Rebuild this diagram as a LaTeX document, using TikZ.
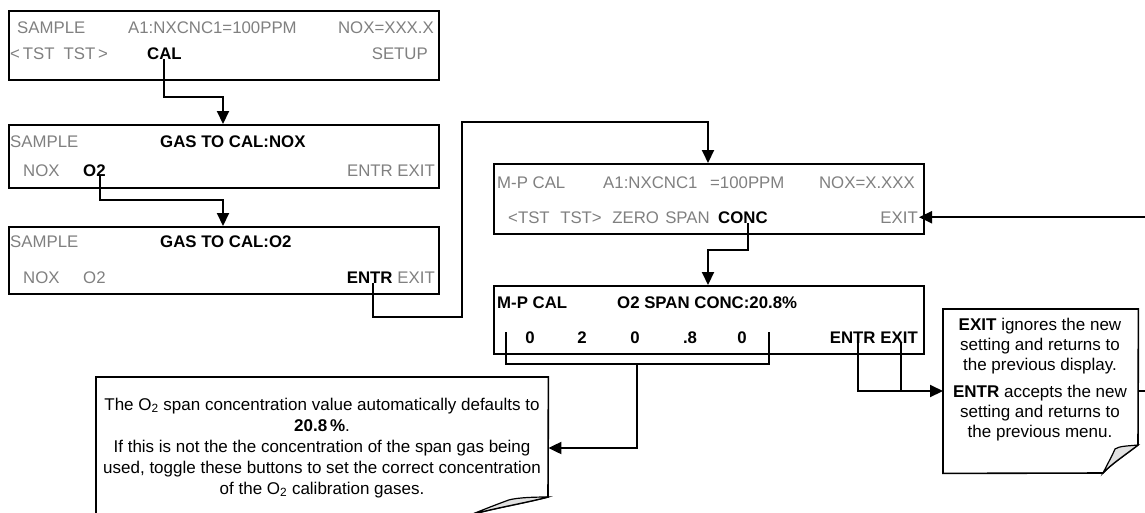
\documentclass[tikz,border=0pt]{standalone}
\usepackage{fontspec}
\setmainfont{Liberation Sans}
\usetikzlibrary{arrows.meta,calc}
\definecolor{lcdgray}{RGB}{128,128,128}
\definecolor{flapgray}{RGB}{225,225,225}
\begin{document}
\begin{tikzpicture}[x=1pt,y=-1pt,
  lcd/.style={draw, line width=1.6pt, minimum width=430pt, anchor=north west, inner sep=0pt},
  g/.style={inner sep=0pt, text=lcdgray, font=\fontsize{16.8}{18}\selectfont},
  b/.style={inner sep=0pt, text=black, font=\fontsize{16.8}{18}\selectfont\bfseries},
  conn/.style={line width=2pt},
  arr/.style={line width=2pt, -{Triangle[length=13pt,width=12pt]}},
  ct/.style={inner sep=0pt, align=center, font=\fontsize{17}{20}\selectfont},
  callout/.style={line width=1.6pt},
  flap/.style={line width=1.2pt, fill=flapgray},
  holder/.style={inner sep=0pt, anchor=north west}
]
\useasboundingbox (0,0) rectangle (1145,512);
\clip (0,0) rectangle (1145,512);

% ---------- Box 1 ----------
\node[lcd, minimum height=69pt] (b1) at (8,10) {};
\node[g, anchor=base west] (b1s) at (17,33) {SAMPLE};
\node[g, anchor=base west] (b1a) at (128,33) {A1:NXCNC1=100PPM};
\node[g, anchor=base east] (b1n) at (434,33) {NOX=XXX.X};
\node[g, anchor=base west] (b1t) at (10,59) {<\,TST\hspace{9pt}TST\,>};
\node[b, anchor=base west] (cal) at (147,59) {CAL};
\node[g, anchor=base east] (b1set) at (428,59) {SETUP};

% ---------- Box 2 ----------
\node[lcd, minimum height=63pt] (b2) at (8,124) {};
\node[g, anchor=base west] (b2s) at (10,147) {SAMPLE};
\node[b, anchor=base west] (b2h) at (160,147) {GAS TO CAL:NOX};
\node[g, anchor=base west] (b2nox) at (23,176) {NOX};
\node[b, anchor=base west] (b2o2) at (83,176) {O2};
\node[g, anchor=base east] (b2ee) at (435,176) {ENTR EXIT};

% ---------- Box 3 ----------
\node[lcd, minimum height=67pt] (b3) at (8,226) {};
\node[g, anchor=base west] (b3s) at (10,247) {SAMPLE};
\node[b, anchor=base west] (b3h) at (160,247) {GAS TO CAL:O2};
\node[g, anchor=base west] (b3nox) at (23,283) {NOX};
\node[g, anchor=base west] (b3o2) at (83,283) {O2};
\node[g, anchor=base east] (b3exit) at (435,283) {EXIT};
\node[b, anchor=base east] (b3entr) at ([xshift=-4.5pt]b3exit.base west) {ENTR};

% ---------- Box 4 ----------
\node[lcd, minimum height=70pt] (b4) at (493,163) {};
\node[g, anchor=base west] (b4m) at (497,188) {M-P CAL};
\node[g, anchor=base west] (b4a) at (603,188) {A1:NXCNC1\hspace{12.7pt}=100PPM};
\node[g, anchor=base east] (b4n) at (915,188) {NOX=X.XXX};
\node[g, anchor=base west] (b4t) at (508,223) {<TST\hspace{10.5pt}TST>\hspace{10.5pt}ZERO\hspace{6.3pt}SPAN};
\node[b, anchor=base west] (conc) at (718,223) {CONC};
\node[g, anchor=base east] (b4exit) at (918,223) {EXIT};

% ---------- Box 5 ----------
\node[lcd, minimum height=68pt] (b5) at (493,285) {};
\node[b, anchor=base west] (b5m) at (497,308) {M-P CAL};
\node[b, anchor=base west] (b5h) at (617,308) {O2 SPAN CONC:20.8\%};
\node[b, anchor=base] (d1) at (530,343) {0};
\node[b, anchor=base] (d2) at (582,343) {2};
\node[b, anchor=base] (d3) at (635,343) {0};
\node[b, anchor=base] (d4) at (690,343) {.8};
\node[b, anchor=base] (d5) at (742,343) {0};
\node[b, anchor=base east] (b5exit) at (918,343) {EXIT};
\node[b, anchor=base east] (b5entr) at ([xshift=-4.5pt]b5exit.base west) {ENTR};

% ---------- Callouts ----------
\node[holder, minimum width=452pt, minimum height=138pt] (c1) at (96,377) {};
\node[holder, minimum width=195pt, minimum height=164pt] (c2) at (943,309) {};

\draw[callout] (c1.south west) -- (c1.north west) -- (c1.north east) -- (548,497)
  .. controls (525,503) and (490,509) .. (470,515) -- (c1.south west);
\draw[flap] (548,497) .. controls (530,497) and (512,498) .. (506,501)
  .. controls (495,505) and (480,511) .. (470,515)
  .. controls (490,509) and (525,503) .. (548,497) -- cycle;
\node[ct, font=\fontsize{17}{21}\selectfont] (c1t) at (322,448)
  {The O\textsubscript{2} span concentration value automatically defaults to\\
   \textbf{20.8\,\%}.\\
   If this is not the the concentration of the span gas being\\
   used, toggle these buttons to set the correct concentration\\
   of the O\textsubscript{2} calibration gases.};

\draw[callout] (c2.north west) -- (c2.north east) -- (1138,445)
  .. controls (1125,455) and (1110,465) .. (1103,473) -- (c2.south west) -- cycle;
\draw[flap] (1138,445) .. controls (1128,446) and (1119,446) .. (1115,449)
  .. controls (1112,456) and (1107,465) .. (1103,473)
  .. controls (1110,465) and (1125,455) .. (1138,445) -- cycle;
\node[ct] (c2t1) at (1040,346) {\textbf{EXIT} ignores the new\\setting and returns to\\the previous display.};
\node[ct] (c2t2) at (1040,413) {\textbf{ENTR} accepts the new\\setting and returns to\\the previous menu.};

% ---------- Connectors ----------
\draw[arr] (cal.south) |- (223,97) -- (b2.north -| 223,0);
\draw[arr] ([xshift=6pt]b2o2.south) |- (223,200) -- (b3.north -| 223,0);
\draw[arr] ([xshift=3pt]b3entr.south) |- (462,317) |- (708,122) -- (b4.north -| 708,0);
\draw[arr] ([xshift=5pt]conc.south) |- (708,250) -- (b5.north -| 708,0);

\coordinate (brL) at (506,332);
\coordinate (brR) at (769,332);
\coordinate (brM) at (637,364);
\draw[conn] (brL) |- (brR |- brM) -- (brR);
\draw[arr] (brM) |- (c1.east |- 0,448);

\draw[conn] ([xshift=5pt]b5entr.south) |- (902,391);
\draw[arr] ([xshift=2pt]b5exit.south) |- (c2.west |- 0,391);
\draw[arr] (c2.east |- 0,391) -- (1150,391) |- ([xshift=1pt]b4exit.east);
\end{tikzpicture}
\end{document}
